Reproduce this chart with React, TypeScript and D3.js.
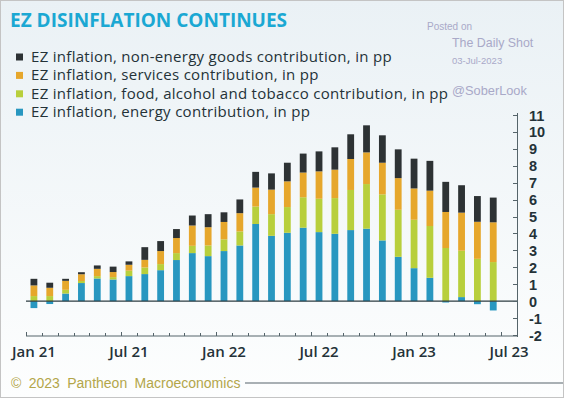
import { useEffect, useRef } from "react";
import * as d3 from "d3";

// monthly contributions, Jan 21 .. Jun 23 (pp)
const months = [
  "2021-01", "2021-02", "2021-03", "2021-04", "2021-05", "2021-06",
  "2021-07", "2021-08", "2021-09", "2021-10", "2021-11", "2021-12",
  "2022-01", "2022-02", "2022-03", "2022-04", "2022-05", "2022-06",
  "2022-07", "2022-08", "2022-09", "2022-10", "2022-11", "2022-12",
  "2023-01", "2023-02", "2023-03", "2023-04", "2023-05", "2023-06",
];
// axis runs one month past the last bar
const axisMonths = [...months, "2023-07"];

const energy = [
  -0.41, -0.17, 0.45, 1.07, 1.34, 1.28, 1.48, 1.6, 1.83, 2.43, 2.84, 2.66,
  2.96, 3.29, 4.56, 3.86, 4.04, 4.34, 4.08, 3.98, 4.2, 4.28, 3.59, 2.62,
  1.95, 1.38, -0.08, 0.24, -0.18, -0.55,
];
const food = [
  0.3, 0.3, 0.22, 0.12, 0.14, 0.14, 0.32, 0.39, 0.36, 0.41, 0.43, 0.63,
  0.69, 0.83, 1.03, 1.28, 1.52, 1.8, 1.97, 2.11, 2.37, 2.64, 2.72, 2.78,
  2.86, 3.06, 3.14, 2.74, 2.5, 2.31,
];
const services = [
  0.63, 0.49, 0.53, 0.4, 0.43, 0.3, 0.35, 0.45, 0.77, 0.89, 1.2, 1.08,
  1.03, 1.08, 1.12, 1.45, 1.52, 1.46, 1.62, 1.68, 1.83, 1.87, 1.87, 1.87,
  1.85, 2.09, 2.13, 2.25, 2.19, 2.35,
];
const goods = [
  0.39, 0.3, 0.12, 0.12, 0.2, 0.32, 0.2, 0.75, 0.59, 0.53, 0.59, 0.77,
  0.57, 0.81, 0.93, 0.96, 1.1, 1.12, 1.18, 1.32, 1.46, 1.6, 1.62, 1.7,
  1.76, 1.76, 1.78, 1.62, 1.52, 1.46,
];

const seriesKeys = ["energy", "food", "services", "goods"];
const seriesColors = ["#2897c0", "#b8cf3c", "#e6a72c", "#2d3234"];
// legend runs top to bottom in the reverse order of the stack
const legendLabels = [
  "EZ inflation, non-energy goods contribution, in pp",
  "EZ inflation, services contribution, in pp",
  "EZ inflation, food, alcohol and tobacco contribution, in pp",
  "EZ inflation, energy contribution, in pp",
];
const legendColors = ["#2d3234", "#e6a72c", "#b8cf3c", "#2897c0"];
const yTicks = d3.range(-2, 12);
const labelMonths = ["2021-01", "2021-07", "2022-01", "2022-07", "2023-01", "2023-07"];

const W = 564;
const H = 398;
const FONT = "'Open Sans', 'Noto Sans', sans-serif";
const INK = "#243238";

export default function App() {
  const ref = useRef<SVGSVGElement | null>(null);

  useEffect(() => {
    if (!ref.current) return;
    const svg = d3.select(ref.current);
    svg.selectAll("*").remove();

    const defs = svg.append("defs");
    const grad = defs
      .append("linearGradient")
      .attr("id", "bg")
      .attr("x1", 0)
      .attr("y1", 0)
      .attr("x2", 0)
      .attr("y2", 1);
    grad.append("stop").attr("offset", "0%").attr("stop-color", "#eaf1f5");
    grad.append("stop").attr("offset", "100%").attr("stop-color", "#fdfefe");

    svg
      .append("rect")
      .attr("x", 0.5)
      .attr("y", 0.5)
      .attr("width", W - 1)
      .attr("height", H - 1)
      .attr("fill", "url(#bg)")
      .attr("stroke", "#c4c4c4");

    // ---------- title / legend ----------
    svg
      .append("text")
      .attr("x", 10)
      .attr("y", 27)
      .attr("font-family", FONT)
      .attr("font-weight", 700)
      .attr("font-size", 19)
      .attr("fill", "#1ba8d3")
      .text("EZ DISINFLATION CONTINUES");

    const leg = svg.append("g");
    legendLabels.forEach((lab, i) => {
      const y = 56.5 + i * 18.4;
      leg
        .append("rect")
        .attr("x", 16)
        .attr("y", y - 3)
        .attr("width", 7)
        .attr("height", 7)
        .attr("fill", legendColors[i]);
      leg
        .append("text")
        .attr("x", 31)
        .attr("y", y + 5.5)
        .attr("font-family", FONT)
        .attr("font-weight", 500)
        .attr("font-size", 15)
        .attr("letter-spacing", 0.3)
        .attr("fill", INK)
        .text(lab);
    });

    // watermark
    const wm = "#a9a9c8";
    const wmt = [
      { t: "Posted on", x: 427, y: 30, s: 10 },
      { t: "The Daily Shot", x: 452, y: 47, s: 12.4 },
      { t: "03-Jul-2023", x: 452, y: 64, s: 9.5 },
      { t: "@SoberLook", x: 452, y: 95, s: 12.8 },
    ];
    wmt.forEach((d) =>
      svg
        .append("text")
        .attr("x", d.x)
        .attr("y", d.y)
        .attr("font-family", "'Liberation Sans', sans-serif")
        .attr("font-size", d.s)
        .attr("fill", wm)
        .text(d.t),
    );

    // ---------- scales ----------
    const x = d3.scaleBand<string>().domain(axisMonths).range([26, 517]).paddingInner(0.57).paddingOuter(0.285);
    const y = d3.scaleLinear().domain([-2, 11]).range([335, 115]);

    const rows = months.map((m, i) => ({
      month: m,
      energy: energy[i],
      food: food[i],
      services: services[i],
      goods: goods[i],
    }));
    const stack = d3
      .stack<(typeof rows)[number]>()
      .keys(seriesKeys)
      .offset(d3.stackOffsetDiverging);
    const layers = stack(rows as never);

    const bars = svg.append("g");
    layers.forEach((layer, li) => {
      bars
        .append("g")
        .attr("fill", seriesColors[li])
        .selectAll("rect")
        .data(layer)
        .join("rect")
        .attr("x", (d) => x(d.data.month)!)
        .attr("width", x.bandwidth())
        .attr("y", (d) => y(Math.max(d[0], d[1])))
        .attr("height", (d) => Math.abs(y(d[0]) - y(d[1])));
    });

    // zero line
    svg
      .append("line")
      .attr("x1", 26)
      .attr("x2", 517)
      .attr("y1", y(0))
      .attr("y2", y(0))
      .attr("stroke", "#2c3c42")
      .attr("stroke-width", 1.2);

    // ---------- x axis ----------
    const step = x.step();
    // left edge of each month's slot
    const x0 = (m: string) => x(m)! - (step - x.bandwidth()) / 2;
    const xa = svg.append("g").attr("stroke", "#55646a");
    xa.append("line").attr("x1", 26).attr("x2", 517).attr("y1", 336).attr("y2", 336);
    axisMonths.forEach((m) => {
      const tx = Math.round(x0(m)) + 0.5;
      const major = m.endsWith("-01") || m.endsWith("-07");
      xa.append("line")
        .attr("x1", tx)
        .attr("x2", tx)
        .attr("y1", 336)
        .attr("y2", major ? 332 : 333);
    });
    const fmt = d3.timeFormat("%b %y");
    const parse = d3.timeParse("%Y-%m");
    svg
      .append("g")
      .selectAll("text")
      .data(labelMonths)
      .join("text")
      .attr("x", (m) => x0(m) + step / 2)
      .attr("y", 357)
      .attr("text-anchor", "middle")
      .attr("font-family", FONT)
      .attr("font-weight", 600)
      .attr("font-size", 15)
      .attr("fill", INK)
      .text((m) => fmt(parse(m)!));

    // ---------- y axis ----------
    const ya = svg.append("g");
    ya.append("line")
      .attr("x1", 517.5)
      .attr("x2", 517.5)
      .attr("y1", 113)
      .attr("y2", 337)
      .attr("stroke", "#55646a");
    ya.selectAll("line.t")
      .data(yTicks)
      .join("line")
      .attr("class", "t")
      .attr("x1", 513)
      .attr("x2", 517.5)
      .attr("y1", (d) => Math.round(y(d)) + 0.5)
      .attr("y2", (d) => Math.round(y(d)) + 0.5)
      .attr("stroke", "#55646a");
    ya.selectAll("text")
      .data(yTicks)
      .join("text")
      .attr("x", 529)
      .attr("y", (d) => y(d) + 5.5)
      .attr("font-family", "'Liberation Sans', sans-serif")
      .attr("font-weight", 700)
      .attr("font-size", 14.5)
      .attr("fill", INK)
      .text((d) => String(d));

    // ---------- footer ----------
    svg
      .append("text")
      .attr("x", 11)
      .attr("y", 388)
      .attr("font-family", "'Liberation Sans', sans-serif")
      .attr("font-size", 14)
      .attr("word-spacing", 3.5)
      .attr("fill", "#b3a64a")
      .text("© 2023 Pantheon Macroeconomics");
    svg
      .append("line")
      .attr("x1", 245)
      .attr("x2", W - 1)
      .attr("y1", 383)
      .attr("y2", 383)
      .attr("stroke", "#a9b0b4")
      .attr("stroke-width", 2.2);
  }, []);

  return (
    <div style={{ position: "absolute", left: 0, top: 0 }}>
      <svg ref={ref} width={W} height={H} style={{ display: "block" }} />
    </div>
  );
}
